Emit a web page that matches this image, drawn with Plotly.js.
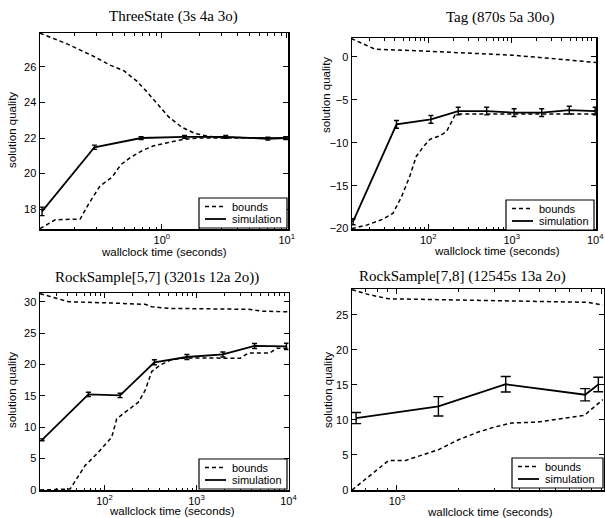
<!DOCTYPE html>
<html>
<head>
<meta charset="utf-8">
<script src="https://cdn.plot.ly/plotly-3.0.1.min.js"></script>
<style>html,body{margin:0;padding:0;background:#fff;}#chart{width:605px;height:518px;}</style>
</head>
<body>
<div id="chart"></div>
<script>
// ---------- ThreeState (3s 4a 3o) ----------
const tsSimTime = [0.11, 0.289, 0.683, 1.52, 3.25, 7.05, 9.8];
const tsSimQuality = [17.87, 21.48, 22.0, 22.07, 22.07, 21.96, 22.0];
const tsSimErr = [0.24, 0.12, 0.08, 0.08, 0.08, 0.08, 0.08];
const tsUpperTime = [0.106, 0.174, 0.284, 0.386, 0.493, 0.631, 0.76, 0.9, 1.13, 1.45, 1.85, 2.36, 3.0, 10.2];
const tsUpperQuality = [27.9, 27.3, 26.6, 26.1, 25.8, 25.2, 24.6, 24.0, 23.2, 22.6, 22.25, 22.1, 22.03, 22.0];
const tsLowerTime = [0.106, 0.14, 0.222, 0.26, 0.32, 0.4, 0.47, 0.56, 0.7, 0.85, 1.13, 1.5, 2.05, 10.2];
const tsLowerQuality = [16.9, 17.4, 17.44, 18.3, 19.3, 19.8, 20.5, 20.9, 21.3, 21.55, 21.75, 21.93, 22.0, 22.0];

// ---------- Tag (870s 5a 30o) ----------
const tagSimTime = [12.6, 41.8, 108, 229, 502, 1070, 2290, 4900, 10000];
const tagSimQuality = [-19.2, -7.86, -7.28, -6.31, -6.31, -6.5, -6.5, -6.2, -6.31];
const tagSimErr = [0.35, 0.45, 0.45, 0.45, 0.45, 0.45, 0.45, 0.45, 0.45];
const tagUpperTime = [12, 23, 100, 1000, 3020, 10200];
const tagUpperQuality = [2.14, 0.9, 0.66, 0.2, -0.19, -0.65];
const tagLowerTime = [12.2, 18.3, 28.8, 38, 48, 60, 72, 87, 105, 138, 166, 209, 240, 10200];
const tagLowerQuality = [-20, -19.6, -18.9, -18.2, -16.3, -13.95, -11.6, -10.5, -9.6, -9.2, -8.7, -6.8, -6.65, -6.65];

// ---------- RockSample[5,7] (3201s 12a 2o) ----------
const rs57SimTime = [21, 67, 148, 349, 787, 1936, 4280, 9500];
const rs57SimQuality = [8.0, 15.24, 15.08, 20.36, 21.2, 21.6, 22.96, 22.9];
const rs57SimErr = [0.15, 0.35, 0.35, 0.4, 0.4, 0.4, 0.4, 0.5];
const rs57UpperTime = [20, 41, 94, 277, 327, 497, 3673, 5130, 10000];
const rs57UpperQuality = [31.3, 30.0, 29.85, 29.6, 29.2, 28.95, 28.8, 28.5, 28.4];
const rs57LowerTime = [20, 42.4, 61.7, 82.6, 120, 136, 168, 234, 277, 327, 403, 540, 787, 2985, 3673, 6310, 7470, 10000];
const rs57LowerQuality = [0, 0.16, 3.9, 5.76, 8.4, 11.35, 12.4, 14.0, 15.9, 18.9, 19.9, 20.8, 21.05, 21.0, 21.85, 21.85, 22.6, 22.6];

// ---------- RockSample[7,8] (12545s 13a 2o) ----------
const rs78SimTime = [631, 1597, 3413, 8356, 9700];
const rs78SimQuality = [10.27, 11.95, 15.1, 13.6, 15.06];
const rs78SimErr = [0.79, 1.38, 1.1, 0.88, 1.03];
const rs78UpperTime = [603, 728, 910, 1720, 3635, 7690, 8610, 10200];
const rs78UpperQuality = [28.6, 27.9, 27.3, 27.15, 27.0, 26.9, 26.8, 26.4];
const rs78LowerTime = [603, 755, 910, 1097, 1595, 2000, 2500, 3020, 3640, 4900, 8280, 10200];
const rs78LowerQuality = [0, 2.3, 4.2, 4.2, 5.74, 7.17, 8.27, 9.0, 9.56, 9.7, 10.66, 12.9];

// ---------- text ----------
const panelTitles = ["ThreeState (3s 4a 3o)", "Tag (870s 5a 30o)", "RockSample[5,7] (3201s 12a 2o))", "RockSample[7,8] (12545s 13a 2o)"];
const xLabel = "wallclock time (seconds)";
const yLabel = "solution quality";
const legendNames = ["bounds", "simulation"];

const W = 605, H = 518;
const SANS = "Liberation Sans, Arial, sans-serif";
const SERIF = "Liberation Serif, Times New Roman, serif";

// panel boxes in pixels: [left, right, top, bottom]
const boxes = [
  [40, 288, 33, 229],
  [352, 596, 38, 229],
  [40, 288.5, 293, 490],
  [352, 603.5, 289, 490]
];
const xRanges = [[-0.975, 1.01], [1.088, 4.01], [1.30, 4.0], [2.78, 4.012]];
const yRanges = [[16.88, 27.91], [-20.05, 2.2], [0, 31.4], [0, 28.7]];
const yTicks = [[18, 20, 22, 24, 26], [-20, -15, -10, -5, 0], [0, 5, 10, 15, 20, 25, 30], [0, 5, 10, 15, 20, 25]];
const xTickExp = [[0, 1], [2, 3, 4], [2, 3, 4], [3, 4]];
const errCap = [2.5, 2.5, 2.5, 5];

const panels = [
  {st: tsSimTime, sq: tsSimQuality, se: tsSimErr, ut: tsUpperTime, uq: tsUpperQuality, lt: tsLowerTime, lq: tsLowerQuality},
  {st: tagSimTime, sq: tagSimQuality, se: tagSimErr, ut: tagUpperTime, uq: tagUpperQuality, lt: tagLowerTime, lq: tagLowerQuality},
  {st: rs57SimTime, sq: rs57SimQuality, se: rs57SimErr, ut: rs57UpperTime, uq: rs57UpperQuality, lt: rs57LowerTime, lq: rs57LowerQuality},
  {st: rs78SimTime, sq: rs78SimQuality, se: rs78SimErr, ut: rs78UpperTime, uq: rs78UpperQuality, lt: rs78LowerTime, lq: rs78LowerQuality}
];

// legend boxes [left, top, right, bottom] px
const legendBox = [[199, 198, 287, 228], [506, 200, 594, 230], [199, 459, 287, 489], [512, 458, 603, 488]];
// annotation positions (px): title center, ylabel center, xlabel center
const titlePos = [[173, 16], [500, 17], [157, 277], [462, 276]];
const yLabPos = [[12, 130], [326, 95], [12, 390], [328, 390]];
const xLabPos = [[164, 252], [497, 251], [172, 511], [490, 512]];

function minorVals(e0, e1) {
  const v = [];
  for (let e = e0; e <= e1; e++) for (let m = 2; m <= 9; m++) v.push(m * Math.pow(10, e));
  return v;
}
const minorRanges = [[-1, 0], [1, 3], [1, 3], [2, 3]];

const data = [];
const layout = {
  width: W, height: H,
  margin: {l: 0, r: 0, t: 0, b: 0},
  paper_bgcolor: "#fff", plot_bgcolor: "#fff",
  showlegend: false,
  annotations: [],
  shapes: [],
  font: {family: SANS, color: "#000", size: 11}
};
const DASH = "4px,3px";
const px = v => v / W, py = v => 1 - v / H;

panels.forEach((p, i) => {
  const n = i + 1;
  const xa = "x" + (n === 1 ? "" : n), ya = "y" + (n === 1 ? "" : n);
  const b = boxes[i];
  data.push({x: p.lt, y: p.lq, xaxis: xa, yaxis: ya, mode: "lines", name: legendNames[0],
    line: {color: "#000", width: 1.5, dash: DASH}, hoverinfo: "skip"});
  data.push({x: p.ut, y: p.uq, xaxis: xa, yaxis: ya, mode: "lines", name: legendNames[0],
    line: {color: "#000", width: 1.5, dash: DASH}, hoverinfo: "skip"});
  data.push({x: p.st, y: p.sq, xaxis: xa, yaxis: ya, mode: "lines", name: legendNames[1],
    line: {color: "#000", width: 1.8},
    error_y: {type: "data", array: p.se, visible: true, color: "#000", thickness: 1.4, width: errCap[i]},
    hoverinfo: "skip"});

  const axCommon = {
    showline: true, linecolor: "#000", linewidth: 1.5, mirror: "allticks",
    ticks: "inside", ticklen: 5, tickwidth: 1, tickcolor: "#000",
    showgrid: false, zeroline: false, fixedrange: true,
    tickfont: {family: SANS, size: 11, color: "#000"}
  };
  const xKey = "xaxis" + (n === 1 ? "" : n), yKey = "yaxis" + (n === 1 ? "" : n);
  layout[xKey] = Object.assign({}, axCommon, {
    type: "log", range: xRanges[i], anchor: ya,
    domain: [b[0] / W, b[1] / W],
    tickmode: "array",
    tickvals: xTickExp[i].map(e => Math.pow(10, e)),
    ticktext: xTickExp[i].map(e => "10<sup>" + e + "</sup>"),
    minor: {ticks: "inside", ticklen: 2.5, tickcolor: "#000", tickwidth: 1,
      tickmode: "array", tickvals: minorVals(minorRanges[i][0], minorRanges[i][1])}
  });
  layout[yKey] = Object.assign({}, axCommon, {
    range: yRanges[i], anchor: xa,
    domain: [1 - b[3] / H, 1 - b[2] / H],
    tickmode: "array", tickvals: yTicks[i]
  });

  // legend (box, sample lines, labels)
  const L = legendBox[i];
  layout.shapes.push({type: "rect", xref: "paper", yref: "paper",
    x0: px(L[0]), x1: px(L[2]), y0: py(L[3]), y1: py(L[1]),
    line: {color: "#000", width: 1.2}, fillcolor: "#fff", layer: "above"});
  const rows = [L[1] + 8.5, L[1] + 21];
  [DASH, "solid"].forEach((d, k) => {
    layout.shapes.push({type: "line", xref: "paper", yref: "paper",
      x0: px(L[0] + 6), x1: px(L[0] + 27), y0: py(rows[k]), y1: py(rows[k]),
      line: {color: "#000", width: k === 0 ? 1.5 : 1.8, dash: d}, layer: "above"});
    layout.annotations.push({text: legendNames[k], xref: "paper", yref: "paper",
      x: px(L[0] + 31), y: py(rows[k]), xanchor: "left", yanchor: "middle",
      showarrow: false, font: {family: SANS, size: 11, color: "#000"}});
  });

  layout.annotations.push({text: panelTitles[i], xref: "paper", yref: "paper",
    x: titlePos[i][0] / W, y: 1 - titlePos[i][1] / H, xanchor: "center", yanchor: "middle",
    showarrow: false, font: {family: SERIF, size: 15, color: "#000"}});
  layout.annotations.push({text: yLabel, xref: "paper", yref: "paper", textangle: -90,
    x: yLabPos[i][0] / W, y: 1 - yLabPos[i][1] / H, xanchor: "center", yanchor: "middle",
    showarrow: false, font: {family: SANS, size: 11.5, color: "#000"}});
  layout.annotations.push({text: xLabel, xref: "paper", yref: "paper",
    x: xLabPos[i][0] / W, y: 1 - xLabPos[i][1] / H, xanchor: "center", yanchor: "middle",
    showarrow: false, font: {family: SANS, size: 11.5, color: "#000"}});
});

Plotly.newPlot("chart", data, layout, {displayModeBar: false, staticPlot: true});
</script>
</body>
</html>
